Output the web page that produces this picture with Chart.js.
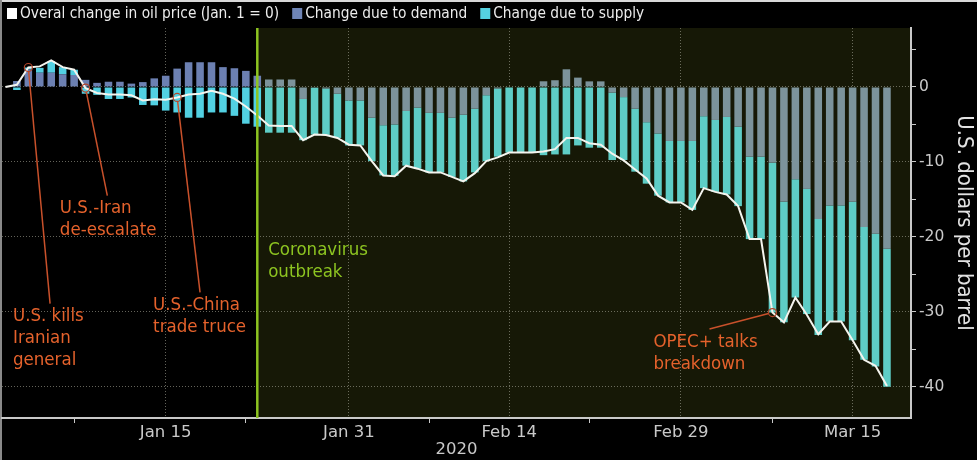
<!DOCTYPE html>
<html>
<head>
<meta charset="utf-8">
<script src="https://cdn.jsdelivr.net/npm/chart.js@4"></script>
<style>
  html, body { margin: 0; padding: 0; background: #000; }
  #wrap { position: relative; width: 977px; height: 460px; }
</style>
</head>
<body>
<div id="wrap"><canvas id="oilChart"></canvas></div>
<script>
// day index 0 = Jan 1 2020, calendar days up to Mar 18
const overall = [
  0, 0.3, 2.6, 2.75, 3.55, 2.65, 2.3, -0.15, -0.8, -1.0,
  -1.0, -1.1, -1.8, -1.65, -1.7, -1.4, -1.0, -0.9, -0.5, -0.9,
  -1.55, -2.6, -3.8, -5.15, -5.2, -5.2, -7.1, -6.35, -6.4, -6.8,
  -7.7, -7.8, -9.9, -11.8, -11.9, -10.5, -10.9, -11.4, -11.4, -12.0,
  -12.6, -11.5, -9.9, -9.4, -8.75, -8.75, -8.75, -8.6, -8.3, -6.8,
  -6.8, -7.5, -7.7, -8.9, -9.8, -11.0, -12.2, -14.5, -15.4, -15.4,
  -16.4, -13.5, -14.0, -14.35, -15.9, -20.3, -20.3, -30.1, -31.4, -28.1,
  -30.4, -33.0, -31.3, -31.3, -33.8, -36.4, -37.2, -39.9
];
const demand = [
  null, 0.8, 2.35, 1.9, 1.9, 1.7, 1.6, 0.95, 0.55, 0.7,
  0.7, 0.45, 0.65, 1.15, 1.5, 2.45, 3.3, 3.3, 3.3, 2.65,
  2.5, 2.15, 1.5, 1.0, 1.0, 1.0, -1.6, -0.1, -0.2, -0.9,
  -1.8, -1.8, -4.1, -5.1, -5.0, -3.2, -2.75, -3.45, -3.45, -4.1,
  -3.7, -2.9, -1.1, -0.2, 0, 0, 0, 0.76, 0.9, 2.36,
  1.25, 0.75, 0.75, -0.75, -1.35, -2.9, -4.7, -6.2, -7.2, -7.2,
  -7.2, -3.9, -4.4, -4.0, -5.3, -9.3, -9.3, -10.1, -15.3, -12.3,
  -13.6, -17.6, -15.8, -15.8, -15.3, -18.7, -19.6, -21.6
];
const supply = [
  null, -0.4, 0.25, 0.65, 1.55, 0.95, 0.7, -0.9, -1.05, -1.6,
  -1.6, -1.4, -2.4, -2.45, -3.15, -3.4, -4.1, -4.1, -3.4, -3.4,
  -3.85, -4.9, -5.3, -6.1, -6.1, -6.1, -5.5, -6.25, -6.2, -5.9,
  -6.0, -6.0, -5.8, -6.7, -6.85, -7.3, -8.15, -7.95, -7.95, -7.9,
  -8.9, -8.5, -8.8, -9.1, -8.75, -8.75, -8.75, -9.1, -9.0, -9.0,
  -7.8, -8.1, -8.1, -9.0, -8.4, -8.4, -8.2, -8.3, -8.2, -8.2,
  -9.2, -9.6, -9.6, -10.35, -10.6, -11.0, -11.0, -20.0, -16.1, -15.8,
  -16.7, -15.5, -15.5, -15.5, -18.5, -17.7, -17.7, -18.4
];

const xMajorDays = [14, 30, 44, 59, 74];
const xMajorLabels = ['Jan 15', 'Jan 31', 'Feb 14', 'Feb 29', 'Mar 15'];
const xMinorDays = [6, 21, 37, 51, 67];
const yTickValues = [-40, -35, -30, -25, -20, -15, -10, -5, 0, 5];
const outbreakDay = 22;

// notes: leader from the line point at `day` to (endDay, endValue), text block at (textDay, textValue)
const events = [
  { lines: ['U.S. kills', 'Iranian', 'general'], day: 2, endDay: 3.9, endValue: -28.9, textDay: 0.66, textValue: -30.6 },
  { lines: ['U.S.-Iran', 'de-escalate'], day: 7, endDay: 8.9, endValue: -14.5, textDay: 4.75, textValue: -16.2 },
  { lines: ['U.S.-China', 'trade truce'], day: 15, endDay: 17.0, endValue: -27.4, textDay: 12.9, textValue: -29.1 },
  { lines: ['OPEC+ talks', 'breakdown'], day: 67, endDay: 61.5, endValue: -32.3, textDay: 56.6, textValue: -34.0 }
];
const outbreakNote = { lines: ['Coronavirus', 'outbreak'], textDay: 22.95, textValue: -21.8 };

const FONT = "'DejaVu Sans Condensed', 'DejaVu Sans', sans-serif";
const AXIS_FONT = "'DejaVu Sans', sans-serif";
const axisColor = '#c9c9c9';
const gridColor = 'rgba(165,165,150,0.6)';
const noteColor = '#e5622c';
const outbreakColor = '#8dc421';

const toXY = arr => arr.map((v, i) => ({ x: i, y: v })).filter(p => p.y !== null);

const backdrop = {
  id: 'backdrop',
  beforeDraw(chart) {
    const { ctx, chartArea: a, scales: { x } } = chart;
    ctx.save();
    ctx.fillStyle = '#000';
    ctx.fillRect(0, 0, chart.width, chart.height);
    const xs = x.getPixelForValue(outbreakDay);
    ctx.fillStyle = '#161806';
    ctx.fillRect(xs, a.top, a.right - xs, a.bottom - a.top);
    ctx.fillStyle = '#d8d8d8';
    ctx.fillRect(0, 0, chart.width, 2);
    ctx.fillStyle = '#8a8a8a';
    ctx.fillRect(0, 0, 2, chart.height);
    ctx.restore();
  }
};

const topLegend = {
  id: 'topLegend',
  afterDraw(chart) {
    const ctx = chart.ctx;
    ctx.save();
    ctx.font = '15.3px ' + FONT;
    ctx.textBaseline = 'middle';
    let x = 7;
    chart.data.datasets.forEach(ds => {
      ctx.fillStyle = ds.legendColor;
      ctx.fillRect(x, 8, 10, 11);
      ctx.fillStyle = '#ececec';
      ctx.fillText(ds.label, x + 13, 14);
      x += 13 + ctx.measureText(ds.label).width + 13;
    });
    ctx.restore();
  }
};

const notes = {
  id: 'notes',
  afterDatasetsDraw(chart) {
    const { ctx, chartArea: a, scales: { x, y } } = chart;
    ctx.save();
    // outbreak marker
    const xo = x.getPixelForValue(outbreakDay);
    ctx.strokeStyle = outbreakColor;
    ctx.lineWidth = 2.5;
    ctx.beginPath();
    ctx.moveTo(xo, a.top);
    ctx.lineTo(xo, a.bottom);
    ctx.stroke();

    ctx.font = '18.5px ' + FONT;
    ctx.textBaseline = 'middle';
    ctx.textAlign = 'left';
    ctx.fillStyle = outbreakColor;
    outbreakNote.lines.forEach((t, i) => {
      ctx.fillText(t, x.getPixelForValue(outbreakNote.textDay), y.getPixelForValue(outbreakNote.textValue) + i * 22);
    });

    events.forEach(ev => {
      const px = x.getPixelForValue(ev.day);
      const py = y.getPixelForValue(overall[ev.day]);
      const ex = x.getPixelForValue(ev.endDay);
      const ey = y.getPixelForValue(ev.endValue);
      const ang = Math.atan2(ey - py, ex - px);
      ctx.strokeStyle = '#c9512b';
      ctx.lineWidth = 1.5;
      ctx.beginPath();
      ctx.moveTo(px + Math.cos(ang) * 4, py + Math.sin(ang) * 4);
      ctx.lineTo(ex, ey);
      ctx.stroke();
      ctx.strokeStyle = '#b4452a';
      ctx.lineWidth = 1.2;
      ctx.beginPath();
      ctx.arc(px, py, 4, 0, Math.PI * 2);
      ctx.stroke();
      ctx.fillStyle = noteColor;
      ev.lines.forEach((t, i) => {
        ctx.fillText(t, x.getPixelForValue(ev.textDay), y.getPixelForValue(ev.textValue) + i * 22);
      });
    });
    ctx.restore();
  }
};

const isMajor = v => xMajorDays.includes(v);

new Chart(document.getElementById('oilChart'), {
  type: 'bar',
  data: {
    datasets: [
      {
        type: 'line',
        label: 'Overal change in oil price (Jan. 1 = 0)',
        legendColor: '#ffffff',
        data: toXY(overall),
        borderColor: '#f4f4ee',
        borderWidth: 2,
        pointRadius: 0,
        tension: 0,
        stack: 'line',
        order: 0
      },
      {
        label: 'Change due to demand',
        legendColor: '#6f85b6',
        data: toXY(demand),
        backgroundColor: c => (c.raw && c.raw.x > outbreakDay) ? '#7c939b' : '#6c80b2',
        stack: 'bars',
        order: 1
      },
      {
        label: 'Change due to supply',
        legendColor: '#55d1e0',
        data: toXY(supply),
        backgroundColor: c => (c.raw && c.raw.x > outbreakDay) ? '#5ecdc6' : '#52d0e2',
        stack: 'bars',
        order: 1
      }
    ]
  },
  options: {
    responsive: true,
    maintainAspectRatio: false,
    animation: false,
    layout: { padding: { top: 28, left: 2, right: 0, bottom: 0 } },
    datasets: {
      bar: { categoryPercentage: 1, barPercentage: 0.66, borderWidth: 0 }
    },
    plugins: {
      legend: { display: false },
      tooltip: { enabled: false }
    },
    scales: {
      x: {
        type: 'linear',
        stacked: true,
        offset: false,
        min: -0.3,
        max: 79.1,
        afterBuildTicks: s => { s.ticks = [...xMinorDays, ...xMajorDays].sort((a, b) => a - b).map(v => ({ value: v })); },
        afterFit: s => { s.height = 42; },
        ticks: {
          autoSkip: false,
          maxRotation: 0,
          padding: 0,
          color: axisColor,
          font: { family: AXIS_FONT, size: 16.5 },
          callback: v => isMajor(v) ? xMajorLabels[xMajorDays.indexOf(v)] : ''
        },
        grid: {
          offset: false,
          color: c => (c.tick && isMajor(c.tick.value)) ? gridColor : 'rgba(0,0,0,0)',
          tickColor: c => (c.tick && isMajor(c.tick.value)) ? 'rgba(0,0,0,0)' : axisColor,
          tickLength: 5,
          lineWidth: 1
        },
        border: { display: true, color: axisColor, width: 2, dash: [1, 2] },
        title: { display: true, text: '2020', color: axisColor, font: { family: AXIS_FONT, size: 16.5 }, padding: 0 }
      },
      y: {
        position: 'right',
        stacked: true,
        min: -44.17,
        max: 7.87,
        afterBuildTicks: s => { s.ticks = yTickValues.map(v => ({ value: v })); },
        afterFit: s => { s.width = 66; },
        ticks: {
          color: axisColor,
          padding: 3,
          font: { family: AXIS_FONT, size: 15.5 },
          callback: v => (v % 10 === 0) ? String(v) : ''
        },
        grid: {
          color: c => (c.tick && c.tick.value % 10 === 0) ? gridColor : 'rgba(0,0,0,0)',
          tickColor: axisColor,
          tickLength: 5,
          lineWidth: 1
        },
        border: { display: true, color: axisColor, width: 2, dash: [1, 2] },
        title: {
          display: true,
          text: 'U.S. dollars per barrel',
          color: '#e2e2e2',
          font: { family: FONT, size: 22 },
          padding: { top: 0, bottom: 3 }
        }
      }
    }
  },
  plugins: [backdrop, notes, topLegend]
});
</script>
</body>
</html>
